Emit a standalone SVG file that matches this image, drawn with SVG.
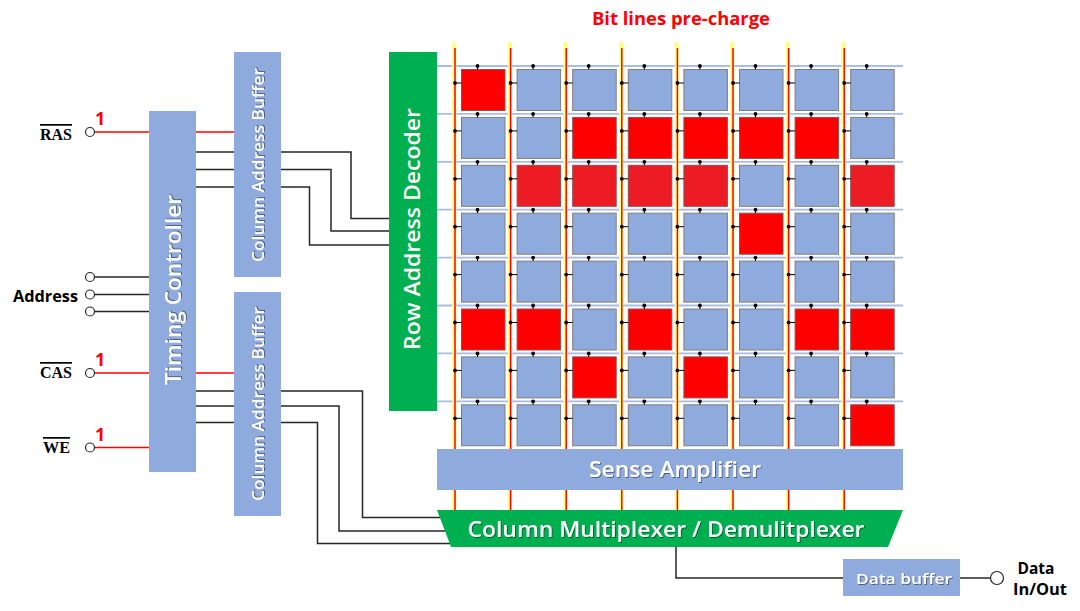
<svg xmlns="http://www.w3.org/2000/svg" xmlns:xlink="http://www.w3.org/1999/xlink" width="1080" height="611" viewBox="0 0 1080 611">
<style>
.blk{fill:#8FAADC}
.grn{fill:#00B050}
.wt{fill:#fff;font-family:"Open Sans","Noto Sans",sans-serif;font-weight:600;text-anchor:middle}
.lbl{fill:#000;font-family:"Open Sans","Noto Sans",sans-serif;font-weight:700}
.ser{fill:#000;font-family:"Liberation Serif",serif;font-weight:700;font-size:17px;text-decoration:overline}
.one{fill:#FF0000;font-family:"Open Sans","Noto Sans",sans-serif;font-weight:700;font-size:18px}
.w{fill:none;stroke:#262626;stroke-width:1.5}
.r{fill:none;stroke:#FF0000;stroke-width:1.5}
.pin{fill:#fff;stroke:#262626;stroke-width:1.2}
.wl{stroke:#A9BEE4;stroke-width:1.8}
.bly{fill:#FFFF80}
.blr{stroke:#FF0000;stroke-width:1.5}
.cb{fill:#8FAADC;stroke:#7F7F7F;stroke-width:1}
.cr{fill:#FF0000;stroke:#8C5050;stroke-width:1}
.cr2{fill:#ED1C24;stroke:#8C5050;stroke-width:1}
</style>
<defs>
<filter id="sh" x="-5%" y="-20%" width="110%" height="140%"><feDropShadow dx="1" dy="1" stdDeviation="0.6" flood-color="#000" flood-opacity="0.45"/></filter>
<g id="conn"><line x1="22.5" y1="0" x2="22.5" y2="3.5" stroke="#000" stroke-width="1"/><circle cx="22.5" cy="0" r="1.9" fill="#000"/><line x1="0" y1="17" x2="6.5" y2="17" stroke="#000" stroke-width="1"/><circle cx="0" cy="17" r="1.9" fill="#000"/></g>
<rect id="cB" class="cb" x="6.5" y="3.5" width="43.5" height="41"/>
<rect id="cR" class="cr" x="6.5" y="3.5" width="43.5" height="41"/>
<rect id="cR2" class="cr2" x="6.5" y="3.5" width="43.5" height="41"/>
</defs>
<rect width="1080" height="611" fill="#fff"/>

<text x="681" y="25" fill="#FF0000" font-family="'Open Sans','Noto Sans',sans-serif" font-weight="700" font-size="17" text-anchor="middle" textLength="178" lengthAdjust="spacingAndGlyphs">Bit lines pre-charge</text>

<g id="connectors">
<line class="wl" x1="437" y1="66" x2="903" y2="66"/>
<line class="wl" x1="437" y1="113.9" x2="903" y2="113.9"/>
<line class="wl" x1="437" y1="161.8" x2="903" y2="161.8"/>
<line class="wl" x1="437" y1="209.7" x2="903" y2="209.7"/>
<line class="wl" x1="437" y1="257.6" x2="903" y2="257.6"/>
<line class="wl" x1="437" y1="305.5" x2="903" y2="305.5"/>
<line class="wl" x1="437" y1="353.4" x2="903" y2="353.4"/>
<line class="wl" x1="437" y1="401.3" x2="903" y2="401.3"/>
<rect class="bly" x="452.3" y="42" width="4" height="468"/>
<rect class="bly" x="507.9" y="42" width="4" height="468"/>
<rect class="bly" x="563.5" y="42" width="4" height="468"/>
<rect class="bly" x="619.1" y="42" width="4" height="468"/>
<rect class="bly" x="674.7" y="42" width="4" height="468"/>
<rect class="bly" x="730.3" y="42" width="4" height="468"/>
<rect class="bly" x="785.9" y="42" width="4" height="468"/>
<rect class="bly" x="841.5" y="42" width="4" height="468"/>
<line class="blr" x1="455" y1="48" x2="455" y2="510"/>
<line class="blr" x1="510.6" y1="48" x2="510.6" y2="510"/>
<line class="blr" x1="566.2" y1="48" x2="566.2" y2="510"/>
<line class="blr" x1="621.8" y1="48" x2="621.8" y2="510"/>
<line class="blr" x1="677.4" y1="48" x2="677.4" y2="510"/>
<line class="blr" x1="733" y1="48" x2="733" y2="510"/>
<line class="blr" x1="788.6" y1="48" x2="788.6" y2="510"/>
<line class="blr" x1="844.2" y1="48" x2="844.2" y2="510"/>
<polyline class="r" points="95,132 149,132"/>
<polyline class="r" points="196,132 234,132"/>
<polyline class="w" points="95,277 149,277"/>
<polyline class="w" points="95,294.5 149,294.5"/>
<polyline class="w" points="95,311.5 149,311.5"/>
<polyline class="r" points="95,373 149,373"/>
<polyline class="r" points="196,373 234,373"/>
<polyline class="r" points="95,447.5 149,447.5"/>
<polyline class="w" points="196,152 234,152"/>
<polyline class="w" points="196,169.5 234,169.5"/>
<polyline class="w" points="196,187 234,187"/>
<polyline class="w" points="281,152 351,152 351,218.5 389,218.5"/>
<polyline class="w" points="281,169.5 331,169.5 331,231 389,231"/>
<polyline class="w" points="281,187 309.5,187 309.5,245 389,245"/>
<polyline class="w" points="196,391 234,391"/>
<polyline class="w" points="196,406 234,406"/>
<polyline class="w" points="196,422.5 234,422.5"/>
<polyline class="w" points="281,391 362.5,391 362.5,517.5 440,517.5"/>
<polyline class="w" points="281,406 339,406 339,531 445,531"/>
<polyline class="w" points="281,422.5 317.5,422.5 317.5,543.5 450,543.5"/>
<polyline class="w" points="676,547 676,578 843,578"/>
<polyline class="w" points="960,578 991,578"/>
<circle class="pin" cx="90" cy="132" r="4.5"/>
<circle class="pin" cx="90" cy="277" r="4.5"/>
<circle class="pin" cx="90" cy="294.5" r="4.5"/>
<circle class="pin" cx="90" cy="311.5" r="4.5"/>
<circle class="pin" cx="90" cy="373" r="4.5"/>
<circle class="pin" cx="90" cy="447.5" r="4.5"/>
<circle class="pin" cx="997" cy="578" r="6.5"/>
</g>

<g id="pin-labels">
<text class="ser" x="40" y="140" textLength="32" lengthAdjust="spacingAndGlyphs">RAS</text>
<text class="one" x="95" y="125">1</text>
<text class="lbl" x="78" y="301.5" font-size="16.5" text-anchor="end" textLength="65" lengthAdjust="spacingAndGlyphs">Address</text>
<text class="ser" x="40" y="378" textLength="32" lengthAdjust="spacingAndGlyphs">CAS</text>
<text class="one" x="95" y="366">1</text>
<text class="ser" x="43" y="453" textLength="27" lengthAdjust="spacingAndGlyphs">WE</text>
<text class="one" x="95" y="441">1</text>
<text class="lbl" x="1036" y="574" font-size="15.5" text-anchor="middle" textLength="37" lengthAdjust="spacingAndGlyphs">Data</text>
<text class="lbl" x="1040" y="595" font-size="15.5" text-anchor="middle" textLength="54" lengthAdjust="spacingAndGlyphs">In/Out</text>
</g>

<g id="timing-controller">
<rect class="blk" x="149" y="111" width="47" height="361"/>
<text class="wt" font-size="21" filter="url(#sh)" transform="translate(181,290) rotate(-90)" textLength="190" lengthAdjust="spacingAndGlyphs">Timing Controller</text>
</g>

<g id="column-address-buffer-upper">
<rect class="blk" x="234" y="52" width="47" height="225"/>
<text class="wt" font-size="16" filter="url(#sh)" transform="translate(264,165) rotate(-90)" textLength="194" lengthAdjust="spacingAndGlyphs">Column Address Buffer</text>
</g>

<g id="column-address-buffer-lower">
<rect class="blk" x="234" y="292" width="47" height="224"/>
<text class="wt" font-size="16" filter="url(#sh)" transform="translate(264,404) rotate(-90)" textLength="194" lengthAdjust="spacingAndGlyphs">Column Address Buffer</text>
</g>

<g id="row-address-decoder">
<rect class="grn" x="389" y="52" width="48" height="359"/>
<text class="wt" font-size="21" transform="translate(420,229) rotate(-90)" textLength="242" lengthAdjust="spacingAndGlyphs">Row Address Decoder</text>
</g>

<g id="cell-array">
<use href="#cR" x="455" y="66"/><use href="#cB" x="510.6" y="66"/><use href="#cB" x="566.2" y="66"/><use href="#cB" x="621.8" y="66"/><use href="#cB" x="677.4" y="66"/><use href="#cB" x="733" y="66"/><use href="#cB" x="788.6" y="66"/><use href="#cB" x="844.2" y="66"/>
<use href="#cB" x="455" y="113.9"/><use href="#cB" x="510.6" y="113.9"/><use href="#cR" x="566.2" y="113.9"/><use href="#cR" x="621.8" y="113.9"/><use href="#cR" x="677.4" y="113.9"/><use href="#cR" x="733" y="113.9"/><use href="#cR" x="788.6" y="113.9"/><use href="#cB" x="844.2" y="113.9"/>
<use href="#cB" x="455" y="161.8"/><use href="#cR2" x="510.6" y="161.8"/><use href="#cR2" x="566.2" y="161.8"/><use href="#cR2" x="621.8" y="161.8"/><use href="#cR2" x="677.4" y="161.8"/><use href="#cB" x="733" y="161.8"/><use href="#cB" x="788.6" y="161.8"/><use href="#cR2" x="844.2" y="161.8"/>
<use href="#cB" x="455" y="209.7"/><use href="#cB" x="510.6" y="209.7"/><use href="#cB" x="566.2" y="209.7"/><use href="#cB" x="621.8" y="209.7"/><use href="#cB" x="677.4" y="209.7"/><use href="#cR" x="733" y="209.7"/><use href="#cB" x="788.6" y="209.7"/><use href="#cB" x="844.2" y="209.7"/>
<use href="#cB" x="455" y="257.6"/><use href="#cB" x="510.6" y="257.6"/><use href="#cB" x="566.2" y="257.6"/><use href="#cB" x="621.8" y="257.6"/><use href="#cB" x="677.4" y="257.6"/><use href="#cB" x="733" y="257.6"/><use href="#cB" x="788.6" y="257.6"/><use href="#cB" x="844.2" y="257.6"/>
<use href="#cR" x="455" y="305.5"/><use href="#cR" x="510.6" y="305.5"/><use href="#cB" x="566.2" y="305.5"/><use href="#cR" x="621.8" y="305.5"/><use href="#cB" x="677.4" y="305.5"/><use href="#cB" x="733" y="305.5"/><use href="#cR" x="788.6" y="305.5"/><use href="#cR" x="844.2" y="305.5"/>
<use href="#cB" x="455" y="353.4"/><use href="#cB" x="510.6" y="353.4"/><use href="#cR" x="566.2" y="353.4"/><use href="#cB" x="621.8" y="353.4"/><use href="#cR" x="677.4" y="353.4"/><use href="#cB" x="733" y="353.4"/><use href="#cB" x="788.6" y="353.4"/><use href="#cB" x="844.2" y="353.4"/>
<use href="#cB" x="455" y="401.3"/><use href="#cB" x="510.6" y="401.3"/><use href="#cB" x="566.2" y="401.3"/><use href="#cB" x="621.8" y="401.3"/><use href="#cB" x="677.4" y="401.3"/><use href="#cB" x="733" y="401.3"/><use href="#cB" x="788.6" y="401.3"/><use href="#cR" x="844.2" y="401.3"/>
<use href="#conn" x="455" y="66"/><use href="#conn" x="510.6" y="66"/><use href="#conn" x="566.2" y="66"/><use href="#conn" x="621.8" y="66"/><use href="#conn" x="677.4" y="66"/><use href="#conn" x="733" y="66"/><use href="#conn" x="788.6" y="66"/><use href="#conn" x="844.2" y="66"/>
<use href="#conn" x="455" y="113.9"/><use href="#conn" x="510.6" y="113.9"/><use href="#conn" x="566.2" y="113.9"/><use href="#conn" x="621.8" y="113.9"/><use href="#conn" x="677.4" y="113.9"/><use href="#conn" x="733" y="113.9"/><use href="#conn" x="788.6" y="113.9"/><use href="#conn" x="844.2" y="113.9"/>
<use href="#conn" x="455" y="161.8"/><use href="#conn" x="510.6" y="161.8"/><use href="#conn" x="566.2" y="161.8"/><use href="#conn" x="621.8" y="161.8"/><use href="#conn" x="677.4" y="161.8"/><use href="#conn" x="733" y="161.8"/><use href="#conn" x="788.6" y="161.8"/><use href="#conn" x="844.2" y="161.8"/>
<use href="#conn" x="455" y="209.7"/><use href="#conn" x="510.6" y="209.7"/><use href="#conn" x="566.2" y="209.7"/><use href="#conn" x="621.8" y="209.7"/><use href="#conn" x="677.4" y="209.7"/><use href="#conn" x="733" y="209.7"/><use href="#conn" x="788.6" y="209.7"/><use href="#conn" x="844.2" y="209.7"/>
<use href="#conn" x="455" y="257.6"/><use href="#conn" x="510.6" y="257.6"/><use href="#conn" x="566.2" y="257.6"/><use href="#conn" x="621.8" y="257.6"/><use href="#conn" x="677.4" y="257.6"/><use href="#conn" x="733" y="257.6"/><use href="#conn" x="788.6" y="257.6"/><use href="#conn" x="844.2" y="257.6"/>
<use href="#conn" x="455" y="305.5"/><use href="#conn" x="510.6" y="305.5"/><use href="#conn" x="566.2" y="305.5"/><use href="#conn" x="621.8" y="305.5"/><use href="#conn" x="677.4" y="305.5"/><use href="#conn" x="733" y="305.5"/><use href="#conn" x="788.6" y="305.5"/><use href="#conn" x="844.2" y="305.5"/>
<use href="#conn" x="455" y="353.4"/><use href="#conn" x="510.6" y="353.4"/><use href="#conn" x="566.2" y="353.4"/><use href="#conn" x="621.8" y="353.4"/><use href="#conn" x="677.4" y="353.4"/><use href="#conn" x="733" y="353.4"/><use href="#conn" x="788.6" y="353.4"/><use href="#conn" x="844.2" y="353.4"/>
<use href="#conn" x="455" y="401.3"/><use href="#conn" x="510.6" y="401.3"/><use href="#conn" x="566.2" y="401.3"/><use href="#conn" x="621.8" y="401.3"/><use href="#conn" x="677.4" y="401.3"/><use href="#conn" x="733" y="401.3"/><use href="#conn" x="788.6" y="401.3"/><use href="#conn" x="844.2" y="401.3"/>
</g>

<g id="sense-amplifier">
<rect class="blk" x="437" y="449" width="466" height="41"/>
<text class="wt" x="675" y="477" font-size="21" filter="url(#sh)" textLength="172" lengthAdjust="spacingAndGlyphs">Sense Amplifier</text>
</g>

<g id="column-multiplexer">
<polygon class="grn" points="437,510 903,510 888,547 451,547"/>
<text class="wt" x="666" y="537" font-size="22" filter="url(#sh)" textLength="397" lengthAdjust="spacingAndGlyphs">Column Multiplexer / Demulitplexer</text>
</g>

<g id="data-buffer">
<rect class="blk" x="843" y="559" width="117" height="37"/>
<text class="wt" x="904" y="584" font-size="15" filter="url(#sh)" textLength="96" lengthAdjust="spacingAndGlyphs">Data buffer</text>
</g>
</svg>
